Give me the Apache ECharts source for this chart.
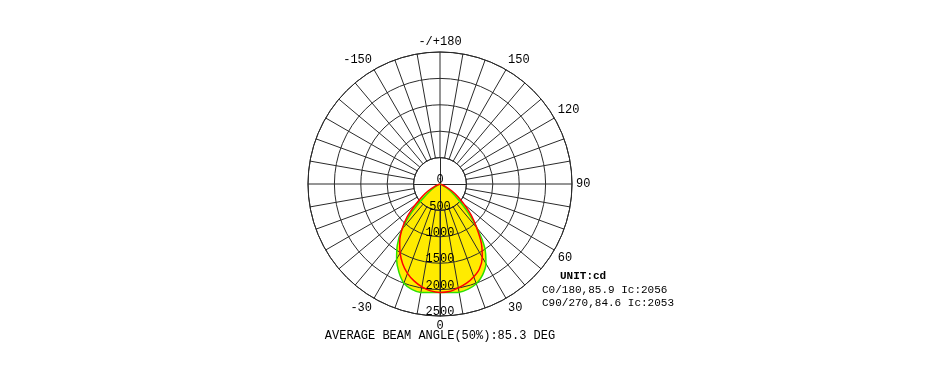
<!DOCTYPE html>
<html>
<head>
<meta charset="utf-8">
<script src="https://cdn.jsdelivr.net/npm/echarts@6/dist/echarts.min.js"></script>
<style>html,body{margin:0;padding:0;background:#fff;}#c{width:950px;height:382px;}</style>
</head>
<body>
<div id="c"></div>
<script>
// ---- data ----
const gammaAngles = [-90,-85,-80,-75,-70,-65,-60,-55,-50,-45,-40,-35,-30,-25,-20,-15,-10,-5,0,5,10,15,20,25,30,35,40,45,50,55,60,65,70,75,80,85,90];
const c0_180 = [0,0,0,5,15,45,110,230,410,765,1120,1408,1644,1842,1999,2065,2085,2065,2056,2065,2080,2060,2010,1905,1740,1480,1100,725,440,270,140,55,18,5,0,0,0];
const c90_270 = [0,0,0,10,40,110,255,410,610,880,1120,1330,1510,1670,1800,1900,1978,2032,2053,2045,1997,1945,1870,1770,1600,1365,1080,835,600,410,255,110,40,10,0,0,0];
const radiusTicks = [0,500,1000,1500,2000,2500];
const angleLabelMap = {'-180':'-/+180','150':'150','120':'120','90':'90','60':'60','30':'30','0':'0','-30':'-30','-150':'-150'};
const legendLines = ['UNIT:cd','C0/180,85.9 Ic:2056','C90/270,84.6 Ic:2053'];
const footer = 'AVERAGE BEAM ANGLE(50%):85.3 DEG';

const FONT = '"Liberation Mono", "DejaVu Sans Mono", monospace';
const GRID = '#2a2a2a';
const YELLOW = '#FFEB00';
const toPairs = vals => vals.map((v,i)=>[v, gammaAngles[i]]);

const chart = echarts.init(document.getElementById('c'));
const axLineOnly = (idx, start) => [
  {polarIndex: idx, type:'value', min:0, max:360, startAngle:start, show:false},
  {polarIndex: idx, type:'value', min:0, max:1, zlevel:1, z:3, axisLine:{show:true, lineStyle:{color:GRID, width:1}}, axisTick:{show:false}, axisLabel:{show:false}, splitLine:{show:false}}
];
const extra = [axLineOnly(2,0), axLineOnly(3,90), axLineOnly(4,180)];

chart.setOption({
  animation:false,
  backgroundColor:'#fff',
  polar:[
    {center:[440,184], radius:[26.4,132]},
    {center:[440,184], radius:[0,132]},
    {center:[440,184], radius:[0,26.4]},
    {center:[440,184], radius:[0,26.4]},
    {center:[440,184], radius:[0,26.4]}
  ],
  angleAxis:[
    {polarIndex:0, type:'value', min:-180, max:180, interval:10, startAngle:90, clockwise:false, zlevel:1, z:3,
     axisLine:{show:true, lineStyle:{color:GRID, width:1}}, axisTick:{show:false},
     splitLine:{show:true, lineStyle:{color:GRID, width:1}},
     axisLabel:{show:true, margin:4, fontFamily:FONT, fontSize:12, color:'#000',
       formatter: v => (angleLabelMap[String(v)] !== undefined ? angleLabelMap[String(v)] : '')}},
    {polarIndex:1, type:'value', min:0, max:360, startAngle:270, clockwise:false, show:false}
  ].concat(extra.map(e=>e[0])),
  radiusAxis:[
    {polarIndex:0, type:'value', min:0, max:1, show:false},
    {polarIndex:1, type:'value', min:radiusTicks[0], max:radiusTicks[radiusTicks.length-1], interval:500, zlevel:1, z:3,
     axisLine:{show:true, lineStyle:{color:GRID, width:1}}, axisTick:{show:false},
     splitLine:{show:true, lineStyle:{color:GRID, width:1}},
     axisLabel:{show:true, margin:0, align:'center', verticalAlign:'bottom', lineHeight:8,
       fontFamily:FONT, fontSize:12, color:'#000', formatter: v => String(v)}}
  ].concat(extra.map(e=>e[1])),
  series:[
    {type:'line', coordinateSystem:'polar', polarIndex:1, data:toPairs(c0_180), symbol:'none', smooth:0.3,
     lineStyle:{width:0}, areaStyle:{color:YELLOW, opacity:1}, zlevel:0, z:1},
    {type:'line', coordinateSystem:'polar', polarIndex:1, data:toPairs(c90_270), symbol:'none', smooth:0.3,
     lineStyle:{width:0}, areaStyle:{color:YELLOW, opacity:1}, zlevel:0, z:1},
    {type:'line', coordinateSystem:'polar', polarIndex:1, data:toPairs(c0_180), symbol:'none', smooth:0.3,
     lineStyle:{width:1.5, color:'#2EE000'}, zlevel:2, z:5},
    {type:'line', coordinateSystem:'polar', polarIndex:1, data:toPairs(c90_270), symbol:'none', smooth:0.3,
     lineStyle:{width:1.5, color:'#FF0000'}, zlevel:2, z:5}
  ],
  graphic:[
    {type:'text', x:560, y:276, zlevel:2, z:10, style:{text:legendLines[0], fill:'#000', font:'bold 11px '+FONT, align:'left', verticalAlign:'middle'}},
    {type:'text', x:542, y:290, zlevel:2, z:10, style:{text:legendLines[1], fill:'#000', font:'11px '+FONT, align:'left', verticalAlign:'middle'}},
    {type:'text', x:542, y:303, zlevel:2, z:10, style:{text:legendLines[2], fill:'#000', font:'11px '+FONT, align:'left', verticalAlign:'middle'}},
    {type:'text', x:440, y:336, zlevel:2, z:10, style:{text:footer, fill:'#000', font:'12px '+FONT, align:'center', verticalAlign:'middle'}}
  ]
});
</script>
</body>
</html>
